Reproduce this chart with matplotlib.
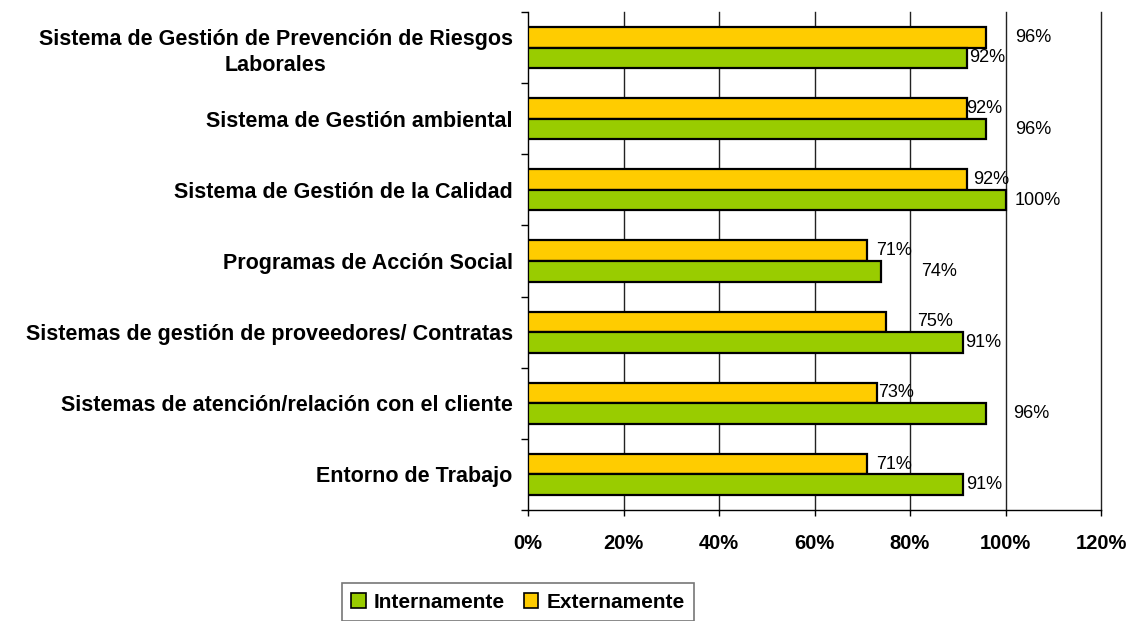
import matplotlib
matplotlib.use("Agg")
import matplotlib.pyplot as plt
from matplotlib.patches import Patch
import numpy as np

categories = [
    "Sistema de Gestión de Prevención de Riesgos\nLaborales",
    "Sistema de Gestión ambiental",
    "Sistema de Gestión de la Calidad",
    "Programas de Acción Social",
    "Sistemas de gestión de proveedores/ Contratas",
    "Sistemas de atención/relación con el cliente",
    "Entorno de Trabajo",
]
externamente = [96, 92, 92, 71, 75, 73, 71]
internamente = [92, 96, 100, 74, 91, 96, 91]
x_ticks = [0, 20, 40, 60, 80, 100, 120]

# label placement offsets (layout only, in percentage points beyond the bar end)
ext_label_dx = [6.0, -0.2, 1.3, 2.0, 6.4, 0.3, 2.0]
int_label_dx = [0.4, 6.0, 2.0, 8.3, 0.6, 5.7, 0.8]

plt.rcParams['font.family'] = ['Liberation Sans', 'DejaVu Sans']

fig = plt.figure(figsize=(11.39, 6.21), dpi=100)
ax = fig.add_axes([528/1139, 1-510/621, 573/1139, 498/621])

n = len(categories)
y = np.arange(n)
h = 0.29
green = "#99CC00"
yellow = "#FFCC00"

ax.barh(y - h/2, externamente, height=h, color=yellow, edgecolor="black", linewidth=1.6, zorder=3)
ax.barh(y + h/2, internamente, height=h, color=green, edgecolor="black", linewidth=1.6, zorder=3)

for i in range(n):
    ax.text(externamente[i] + ext_label_dx[i], y[i] - h/2, f"{externamente[i]}%",
            va="center", ha="left", fontsize=13, zorder=4)
    ax.text(internamente[i] + int_label_dx[i], y[i] + h/2, f"{internamente[i]}%",
            va="center", ha="left", fontsize=13, zorder=4)

ax.set_xlim(0, 120)
ax.set_ylim(n - 0.5, -0.5)
ax.set_xticks(x_ticks)
ax.set_xticklabels([f"{v}%" for v in x_ticks], fontsize=14.5, fontweight="bold")
ax.set_yticks(y)
ax.set_yticklabels(categories, fontsize=15.5, fontweight="bold", multialignment="center",
                   linespacing=1.3)
ax.set_yticks(np.arange(n + 1) - 0.5, minor=True)
ax.tick_params(axis="y", which="major", length=0, pad=11)
ax.tick_params(axis="y", which="minor", length=5, width=1, direction="out")
ax.tick_params(axis="x", which="major", length=4, width=1, direction="out", pad=13)

for v in x_ticks[1:]:
    ax.axvline(v, color="#222222", linewidth=1.0, zorder=1, clip_on=False)

for s in ["top", "right"]:
    ax.spines[s].set_visible(False)
ax.spines["left"].set_linewidth(1)
ax.spines["bottom"].set_linewidth(1)

handles = [Patch(facecolor=green, edgecolor="black", linewidth=1.2),
           Patch(facecolor=yellow, edgecolor="black", linewidth=1.2)]
leg = fig.legend(handles, ["Internamente", "Externamente"], loc="center",
                 bbox_to_anchor=(518/1139, 1-602/621), ncol=2, frameon=True,
                 fancybox=False, edgecolor="#555555", handlelength=0.7, handleheight=0.7,
                 handletextpad=0.4, columnspacing=0.9, borderpad=0.45,
                 prop={"weight": "bold", "size": 15})
leg.get_frame().set_linewidth(1.2)

fig.savefig("out.png", dpi=100)
